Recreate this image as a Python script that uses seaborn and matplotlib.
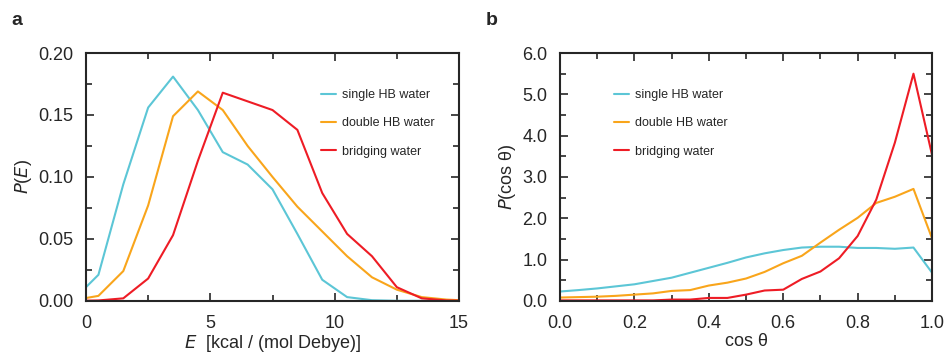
import numpy as np
import pandas as pd
import matplotlib
matplotlib.use("Agg")
import matplotlib.pyplot as plt
import seaborn as sns
from matplotlib.ticker import MultipleLocator, FormatStrFormatter

# panel a: energy distributions (bin centres)
e_bins = [-0.5, 0.5, 1.5, 2.5, 3.5, 4.5, 5.5, 6.5, 7.5, 8.5, 9.5, 10.5, 11.5, 12.5, 13.5, 14.5, 15.5]
e_single = [0.001, 0.021, 0.094, 0.156, 0.181, 0.154, 0.120, 0.110, 0.090, 0.054, 0.017, 0.003, 0.0005, 0.0, 0.0, 0.0, 0.0]
e_double = [0.0005, 0.004, 0.024, 0.077, 0.149, 0.169, 0.154, 0.125, 0.100, 0.076, 0.056, 0.036, 0.019, 0.009, 0.003, 0.001, 0.0]
e_bridge = [0.0, 0.0003, 0.002, 0.018, 0.053, 0.113, 0.168, 0.161, 0.154, 0.138, 0.087, 0.054, 0.036, 0.011, 0.002, 0.0003, 0.0]

# panel b: angle distributions
cos_bins = [0.0, 0.05, 0.1, 0.15, 0.2, 0.25, 0.3, 0.35, 0.4, 0.45, 0.5,
            0.55, 0.6, 0.65, 0.7, 0.75, 0.8, 0.85, 0.9, 0.95, 1.0]
c_single = [0.225, 0.26, 0.30, 0.35, 0.40, 0.48, 0.56, 0.68, 0.80, 0.92, 1.05,
            1.15, 1.23, 1.29, 1.31, 1.31, 1.28, 1.28, 1.26, 1.29, 0.68]
c_double = [0.08, 0.09, 0.10, 0.12, 0.15, 0.18, 0.24, 0.26, 0.37, 0.44, 0.54,
            0.70, 0.91, 1.09, 1.41, 1.72, 2.01, 2.37, 2.52, 2.71, 1.51]
c_bridge = [0.01, 0.01, 0.01, 0.01, 0.01, 0.01, 0.03, 0.03, 0.07, 0.07, 0.15,
            0.25, 0.27, 0.53, 0.71, 1.03, 1.57, 2.45, 3.83, 5.50, 3.53]

labels = ["single HB water", "double HB water", "bridging water"]
colors = ["#5cc6d6", "#f9a51b", "#ee1c25"]

sns.set_style("ticks")
plt.rcParams['font.family'] = ['Liberation Sans', 'DejaVu Sans']

df_a = pd.DataFrame({
    "x": e_bins * 3,
    "y": e_single + e_double + e_bridge,
    "kind": [labels[0]] * len(e_bins) + [labels[1]] * len(e_bins) + [labels[2]] * len(e_bins),
})
df_b = pd.DataFrame({
    "x": cos_bins * 3,
    "y": c_single + c_double + c_bridge,
    "kind": [labels[0]] * len(cos_bins) + [labels[1]] * len(cos_bins) + [labels[2]] * len(cos_bins),
})

fig = plt.figure(figsize=(9.48, 3.56), dpi=100)
ax1 = fig.add_axes([0.0907, 0.155, 0.3935, 0.696])
ax2 = fig.add_axes([0.5907, 0.155, 0.3925, 0.696])

pal = dict(zip(labels, colors))
sns.lineplot(data=df_a, x="x", y="y", hue="kind", palette=pal, ax=ax1, lw=1.5, legend=True)
sns.lineplot(data=df_b, x="x", y="y", hue="kind", palette=pal, ax=ax2, lw=1.5, legend=True)

ax1.set_xlim(0, 15)
ax1.set_ylim(0, 0.2)
ax1.xaxis.set_major_locator(MultipleLocator(5))
ax1.xaxis.set_minor_locator(MultipleLocator(2.5))
ax1.yaxis.set_major_locator(MultipleLocator(0.05))
ax1.yaxis.set_minor_locator(MultipleLocator(0.025))
ax1.yaxis.set_major_formatter(FormatStrFormatter("%.2f"))
ax1.set_xlabel(r"$E$  [kcal / (mol Debye)]", fontsize=13, labelpad=1)
ax1.set_ylabel(r"$P$($E$)", fontsize=13, labelpad=3)

ax2.set_xlim(0, 1)
ax2.set_ylim(0, 6)
ax2.xaxis.set_major_locator(MultipleLocator(0.2))
ax2.xaxis.set_minor_locator(MultipleLocator(0.1))
ax2.yaxis.set_major_locator(MultipleLocator(1.0))
ax2.yaxis.set_minor_locator(MultipleLocator(0.5))
ax2.xaxis.set_major_formatter(FormatStrFormatter("%.1f"))
ax2.yaxis.set_major_formatter(FormatStrFormatter("%.1f"))
ax2.set_xlabel("cos θ", fontsize=13, labelpad=1)
ax2.set_ylabel(r"$P$(cos θ)", fontsize=13, labelpad=3)

for ax in (ax1, ax2):
    ax.tick_params(which="both", direction="in", top=True, right=True, labelsize=13, width=1.2)
    ax.tick_params(axis="y", which="major", length=6, pad=9)
    ax.tick_params(axis="x", which="major", length=6, pad=10)
    ax.tick_params(which="minor", length=4)
    for s in ax.spines.values():
        s.set_linewidth(1.5)
    ax.spines["top"].set_visible(True)
    ax.spines["right"].set_visible(True)

ax1.legend(frameon=False, fontsize=9, loc="upper left", bbox_to_anchor=(0.60, 0.90),
           handlelength=1.2, handletextpad=0.5, labelspacing=1.3)
ax2.legend(frameon=False, fontsize=9, loc="upper left", bbox_to_anchor=(0.115, 0.90),
           handlelength=1.2, handletextpad=0.5, labelspacing=1.3)

fig.text(0.012, 0.93, "a", fontsize=14, fontweight="bold")
fig.text(0.512, 0.93, "b", fontsize=14, fontweight="bold")

fig.savefig("out.png", dpi=100)
